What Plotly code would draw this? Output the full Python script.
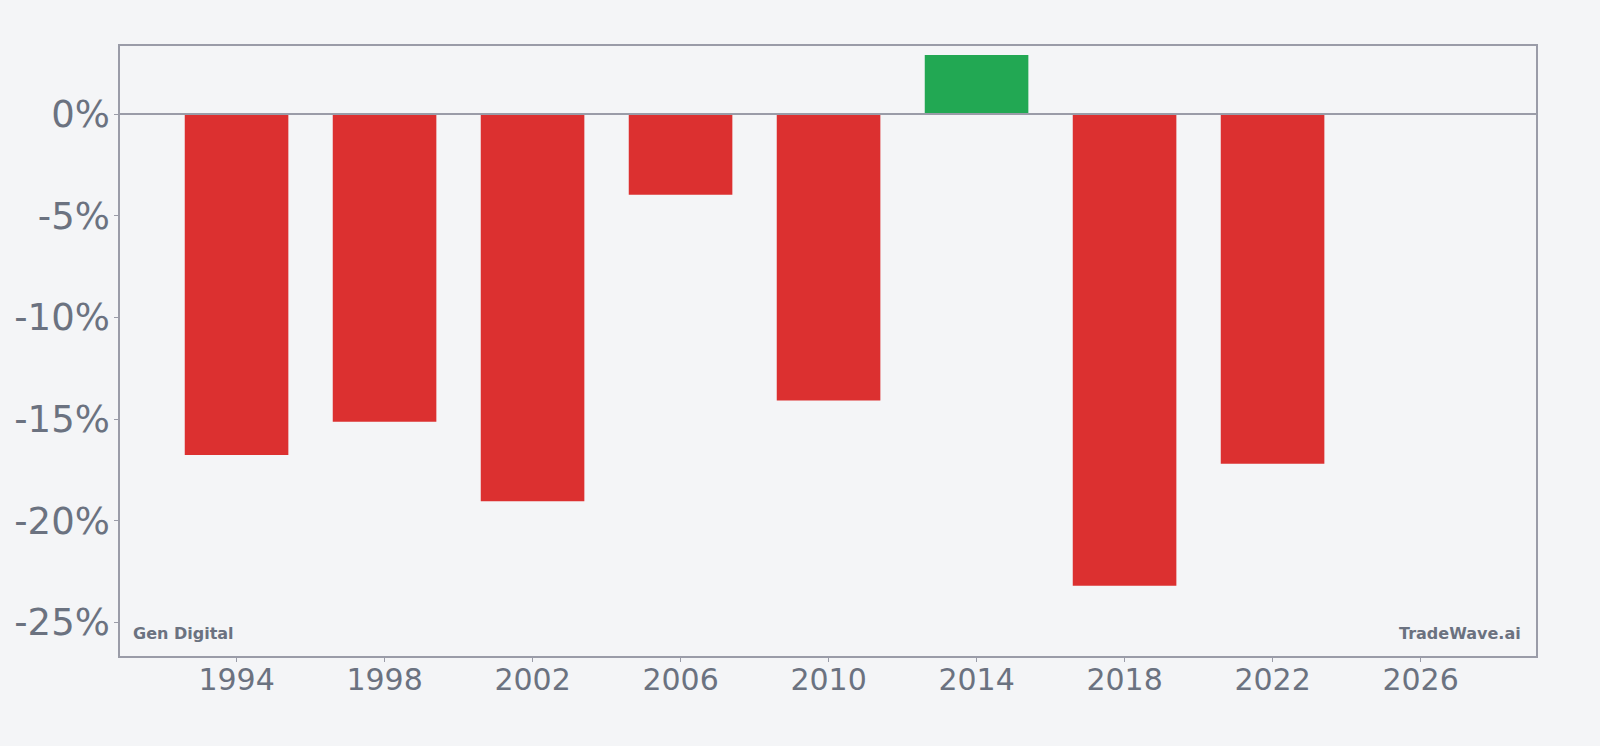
import plotly.graph_objects as go

years = [1994, 1998, 2002, 2006, 2010, 2014, 2018, 2022]
returns = [-16.77, -15.13, -19.04, -3.96, -14.08, 2.91, -23.2, -17.19]
y_tick_vals = [0, -5, -10, -15, -20, -25]
y_tick_text = ["0%", "-5%", "-10%", "-15%", "-20%", "-25%"]
x_tick_vals = [1994, 1998, 2002, 2006, 2010, 2014, 2018, 2022, 2026]

RED = "#dc3030"
GREEN = "#22a853"
TEXT = "#6b7280"
FRAME = "#9a9ca8"
BG = "#f4f5f7"

colors = [GREEN if v >= 0 else RED for v in returns]

fig = go.Figure(go.Bar(x=years, y=returns, width=2.8, marker=dict(color=colors, line=dict(width=0)),
                       hoverinfo="x+y"))

fig.update_layout(
    width=1600, height=746,
    margin=dict(l=120, r=64, t=46, b=90),
    paper_bgcolor=BG, plot_bgcolor=BG,
    showlegend=False,
    font=dict(family="DejaVu Sans", color=TEXT),
    xaxis=dict(range=[1990.85, 2029.12], tickvals=x_tick_vals, ticktext=[str(v) for v in x_tick_vals],
               showgrid=False, zeroline=False, showline=True, mirror=True, linecolor=FRAME, linewidth=1.5,
               ticks="outside", ticklen=4, tickcolor=FRAME, tickfont=dict(size=30, color=TEXT),
               ticklabelstandoff=-8),
    yaxis=dict(range=[-26.65, 3.35], tickvals=y_tick_vals, ticktext=y_tick_text,
               showgrid=False, zeroline=False, showline=True, mirror=True, linecolor=FRAME, linewidth=1.5,
               ticks="outside", ticklen=4, tickcolor=FRAME, tickfont=dict(size=37, color=TEXT),
               ticklabelstandoff=-3),
    shapes=[dict(type="line", xref="paper", x0=0, x1=1, yref="y", y0=0, y1=0,
                 line=dict(color=FRAME, width=2), layer="above")],
    annotations=[
        dict(text="<b>Gen Digital</b>", xref="paper", yref="paper", x=0.008, y=0.018,
             xanchor="left", yanchor="bottom", showarrow=False, font=dict(size=16, color=TEXT)),
        dict(text="<b>TradeWave.ai</b>", xref="paper", yref="paper", x=0.991, y=0.018,
             xanchor="right", yanchor="bottom", showarrow=False, font=dict(size=16, color=TEXT)),
    ],
)

fig.write_html("out.html")
